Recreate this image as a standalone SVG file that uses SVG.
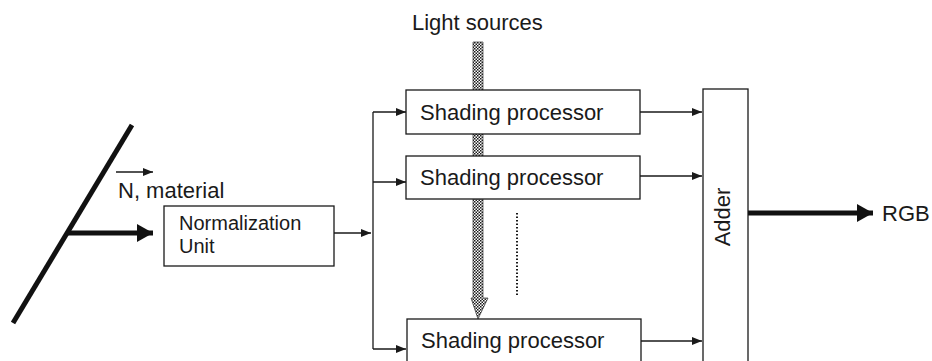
<svg xmlns="http://www.w3.org/2000/svg" width="932" height="361" viewBox="0 0 932 361">
  <defs>
    <style>
      text { font-family: "Liberation Sans", Arial, sans-serif; font-size: 22px; fill: #1a1a1a; }
      .small { font-size: 20px; }
      .box { fill: #ffffff; stroke: #1a1a1a; stroke-width: 1.3; }
      .wire { fill: none; stroke: #1a1a1a; stroke-width: 1.3; }
      .thick { fill: none; stroke: #111111; stroke-width: 5; }
      .dots { fill: none; stroke: #1a1a1a; stroke-width: 2; stroke-dasharray: 1.5 2; }
    </style>
    <marker id="tip" viewBox="0 0 10 8" refX="10" refY="4" markerWidth="10" markerHeight="8" markerUnits="userSpaceOnUse" orient="auto">
      <path d="M0,0 L10,4 L0,8 Z" fill="#1a1a1a"/>
    </marker>
    <marker id="bigtip" viewBox="0 0 16 18" refX="16" refY="9" markerWidth="16" markerHeight="18" markerUnits="userSpaceOnUse" orient="auto">
      <path d="M0,0 L16,9 L0,18 Z" fill="#111111"/>
    </marker>
    <!-- fine checker used for the light-source bus -->
    <pattern id="checker" width="3" height="3" patternUnits="userSpaceOnUse">
      <rect width="3" height="3" fill="#ffffff"/>
      <rect width="1.5" height="1.5" fill="#1a1a1a"/>
      <rect x="1.5" y="1.5" width="1.5" height="1.5" fill="#1a1a1a"/>
    </pattern>
  </defs>

  <rect width="932" height="361" fill="#ffffff"/>

  <g id="connectors">
    <!-- light sources bus, running down behind the processors -->
    <path d="M473,42 H483 V298 H488 L478,319 L471,298 H473 Z" fill="url(#checker)" stroke="#333" stroke-width="0.7"/>
    <!-- surface and normal input -->
    <line class="thick" x1="132" y1="125" x2="13" y2="323"/>
    <line class="thick" x1="67" y1="233" x2="153" y2="233" marker-end="url(#bigtip)"/>
    <line class="wire" x1="116" y1="172" x2="153" y2="172" marker-end="url(#tip)"/>
    <!-- normalization to distribution bus -->
    <line class="wire" x1="334" y1="233" x2="371" y2="233" marker-end="url(#tip)"/>
    <line class="wire" x1="373" y1="112" x2="373" y2="349"/>
    <line class="wire" x1="373" y1="112" x2="406" y2="112" marker-end="url(#tip)"/>
    <line class="wire" x1="373" y1="182" x2="406" y2="182" marker-end="url(#tip)"/>
    <line class="wire" x1="373" y1="349" x2="406" y2="349" marker-end="url(#tip)"/>
    <!-- processors to adder -->
    <line class="wire" x1="640" y1="112" x2="702" y2="112" marker-end="url(#tip)"/>
    <line class="wire" x1="640" y1="176" x2="702" y2="176" marker-end="url(#tip)"/>
    <line class="wire" x1="641" y1="341" x2="702" y2="341" marker-end="url(#tip)"/>
    <!-- adder output -->
    <line class="thick" x1="748" y1="213" x2="873" y2="213" marker-end="url(#bigtip)"/>
    <!-- ellipsis between processors -->
    <line class="dots" x1="517" y1="213" x2="517" y2="297"/>
  </g>

  <g id="label-light">
    <text x="412" y="30">Light sources</text>
  </g>

  <g id="label-normal">
    <text x="118" y="198">N, material</text>
  </g>

  <g id="normalization-unit">
    <rect class="box" x="164" y="206" width="170" height="60"/>
    <text class="small" x="179" y="230">Normalization</text>
    <text class="small" x="179" y="253">Unit</text>
  </g>

  <g id="shading-processor-1">
    <rect class="box" x="406" y="90" width="234" height="44"/>
    <text x="420" y="120">Shading processor</text>
  </g>

  <g id="shading-processor-2">
    <rect class="box" x="406" y="156" width="234" height="43"/>
    <text x="420" y="185">Shading processor</text>
  </g>

  <g id="shading-processor-n">
    <rect class="box" x="407" y="319" width="234" height="60"/>
    <text x="421" y="348">Shading processor</text>
  </g>

  <g id="adder">
    <rect class="box" x="703" y="89" width="45" height="290"/>
    <text transform="translate(730,217) rotate(-90)" text-anchor="middle">Adder</text>
  </g>

  <g id="label-rgb">
    <text x="882" y="221">RGB</text>
  </g>
</svg>
